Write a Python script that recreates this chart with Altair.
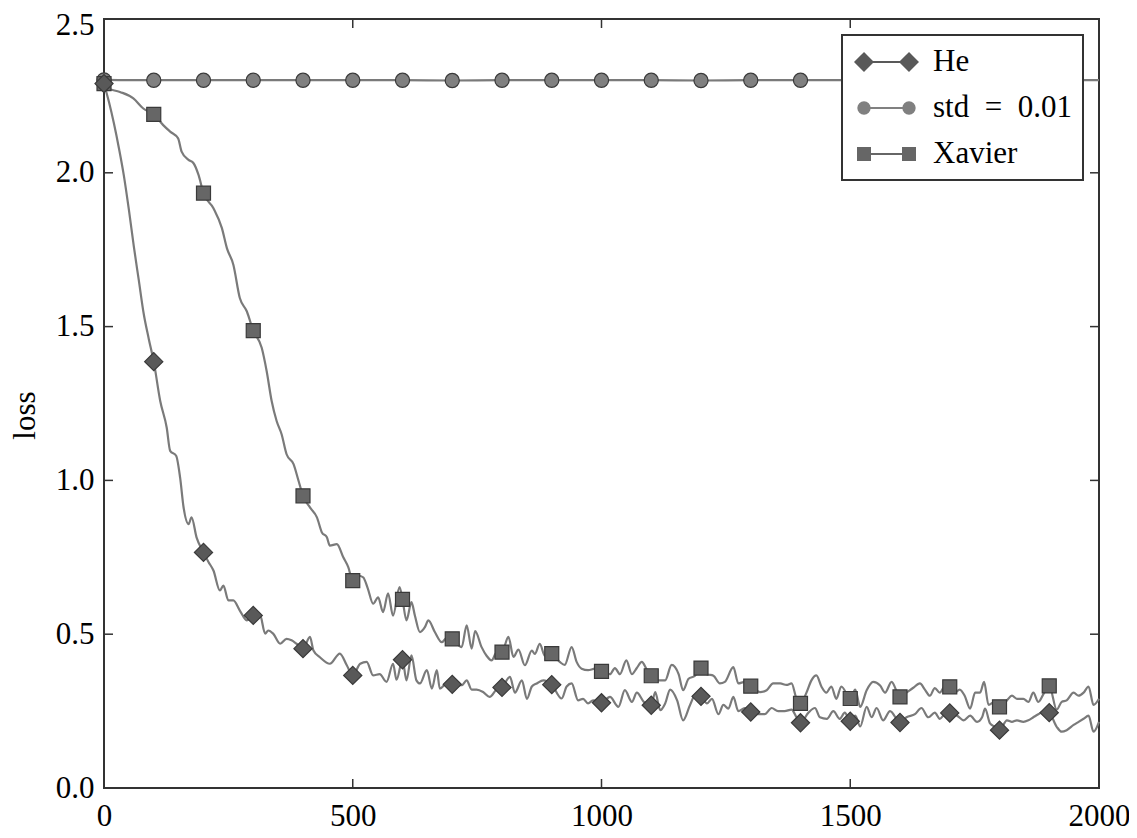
import math
import altair as alt
import pandas as pd

# ---------------- data ----------------
series_names = ["He", "std = 0.01", "Xavier"]

he_steps = [0, 10, 20, 30, 40, 50, 60, 70, 80, 90, 100, 113, 126, 133, 145, 153, 160, 170, 176, 186,
            200, 210, 220, 233, 240, 250, 260, 273, 287, 300, 313, 324, 330, 340, 354, 367, 377, 387,
            400, 414, 421, 434, 454, 474, 488, 500, 515, 528, 541, 554, 568, 581, 588, 600, 608, 618,
            628, 635, 649, 659, 669, 675, 689, 700, 719, 729, 739, 749, 762, 775, 789, 800, 816, 826,
            840, 850, 860, 870, 883, 900, 920, 930, 940, 953, 963, 973, 983, 1000, 1017, 1034, 1047,
            1061, 1071, 1085, 1100, 1108, 1118, 1128, 1138, 1152, 1164, 1178, 1188, 1200, 1212, 1222,
            1235, 1245, 1255, 1265, 1275, 1288, 1300, 1315, 1328, 1342, 1355, 1368, 1382, 1392, 1400,
            1416, 1429, 1439, 1453, 1466, 1479, 1489, 1500, 1510, 1520, 1533, 1543, 1553, 1566, 1580,
            1600, 1613, 1630, 1643, 1657, 1670, 1680, 1690, 1700, 1715, 1728, 1741, 1755, 1765, 1771,
            1781, 1790, 1800, 1815, 1825, 1835, 1848, 1858, 1868, 1878, 1890, 1900, 1915, 1925, 1935,
            1949, 1959, 1969, 1979, 1989, 2000]
he_loss = [2.29, 2.23, 2.16, 2.08, 1.99, 1.88, 1.76, 1.65, 1.54, 1.46, 1.386, 1.258, 1.172, 1.096, 1.080,
           1.009, 0.912, 0.858, 0.880, 0.815, 0.766, 0.735, 0.707, 0.642, 0.658, 0.610, 0.610, 0.577,
           0.545, 0.561, 0.566, 0.502, 0.512, 0.502, 0.469, 0.485, 0.480, 0.469, 0.453, 0.491, 0.447,
           0.425, 0.404, 0.437, 0.399, 0.366, 0.404, 0.410, 0.366, 0.370, 0.345, 0.404, 0.352, 0.417,
           0.350, 0.431, 0.350, 0.340, 0.383, 0.323, 0.383, 0.323, 0.340, 0.337, 0.334, 0.350, 0.320,
           0.320, 0.312, 0.296, 0.320, 0.327, 0.361, 0.310, 0.350, 0.290, 0.330, 0.340, 0.350, 0.336,
           0.291, 0.330, 0.340, 0.285, 0.290, 0.275, 0.285, 0.277, 0.296, 0.264, 0.318, 0.280, 0.310,
           0.280, 0.269, 0.312, 0.253, 0.275, 0.320, 0.285, 0.220, 0.270, 0.300, 0.298, 0.275, 0.290,
           0.240, 0.270, 0.258, 0.296, 0.250, 0.260, 0.247, 0.240, 0.240, 0.260, 0.250, 0.250, 0.255,
           0.230, 0.212, 0.245, 0.260, 0.230, 0.225, 0.250, 0.225, 0.245, 0.217, 0.235, 0.200, 0.264,
           0.230, 0.260, 0.220, 0.250, 0.213, 0.230, 0.240, 0.260, 0.230, 0.245, 0.225, 0.240, 0.244,
           0.235, 0.220, 0.235, 0.215, 0.230, 0.258, 0.210, 0.200, 0.188, 0.220, 0.215, 0.220, 0.215,
           0.220, 0.230, 0.240, 0.250, 0.245, 0.199, 0.183, 0.188, 0.205, 0.215, 0.225, 0.235, 0.183,
           0.215]

xavier_steps = [0, 5, 32, 59, 79, 100, 119, 133, 149, 156, 170, 180, 190, 200, 220, 237, 247, 260, 273,
                287, 300, 317, 327, 337, 347, 357, 367, 381, 391, 400, 414, 428, 438, 448, 454, 468, 481,
                491, 500, 512, 521, 530, 541, 551, 561, 571, 581, 594, 600, 608, 618, 625, 635, 645, 652,
                665, 679, 690, 700, 719, 729, 739, 746, 759, 769, 779, 789, 800, 813, 823, 833, 846, 860,
                866, 876, 886, 900, 916, 926, 940, 950, 960, 973, 987, 1000, 1017, 1027, 1037, 1050,
                1061, 1071, 1081, 1091, 1100, 1115, 1128, 1141, 1155, 1164, 1175, 1188, 1200, 1212,
                1225, 1238, 1248, 1265, 1275, 1288, 1300, 1319, 1332, 1345, 1359, 1372, 1382, 1392,
                1400, 1412, 1422, 1432, 1442, 1452, 1462, 1472, 1482, 1500, 1510, 1520, 1533, 1546,
                1560, 1570, 1583, 1600, 1613, 1626, 1640, 1650, 1660, 1670, 1680, 1690, 1700, 1710,
                1720, 1730, 1741, 1751, 1761, 1769, 1778, 1790, 1800, 1815, 1825, 1835, 1848, 1858,
                1868, 1878, 1890, 1900, 1915, 1925, 1935, 1949, 1959, 1969, 1979, 1989, 2000]
xavier_loss = [2.29, 2.276, 2.263, 2.242, 2.209, 2.190, 2.155, 2.134, 2.112, 2.069, 2.042, 2.031, 1.993,
               1.934, 1.885, 1.820, 1.755, 1.701, 1.593, 1.550, 1.487, 1.431, 1.355, 1.258, 1.193, 1.150,
               1.085, 1.053, 0.999, 0.950, 0.912, 0.880, 0.831, 0.815, 0.788, 0.793, 0.750, 0.718, 0.674,
               0.690, 0.685, 0.650, 0.599, 0.620, 0.572, 0.633, 0.560, 0.653, 0.613, 0.545, 0.604, 0.560,
               0.507, 0.523, 0.545, 0.507, 0.474, 0.490, 0.485, 0.458, 0.529, 0.453, 0.510, 0.458, 0.430,
               0.415, 0.440, 0.442, 0.491, 0.426, 0.450, 0.399, 0.447, 0.436, 0.469, 0.430, 0.437, 0.410,
               0.400, 0.458, 0.410, 0.388, 0.383, 0.388, 0.379, 0.370, 0.390, 0.370, 0.415, 0.370, 0.390,
               0.410, 0.385, 0.365, 0.350, 0.350, 0.400, 0.370, 0.318, 0.355, 0.365, 0.390, 0.370, 0.365,
               0.340, 0.345, 0.393, 0.340, 0.345, 0.331, 0.312, 0.318, 0.340, 0.340, 0.335, 0.340, 0.290,
               0.275, 0.310, 0.350, 0.366, 0.330, 0.310, 0.330, 0.290, 0.330, 0.291, 0.320, 0.264, 0.318,
               0.345, 0.333, 0.310, 0.345, 0.296, 0.310, 0.325, 0.340, 0.320, 0.300, 0.325, 0.310, 0.330,
               0.329, 0.310, 0.320, 0.300, 0.258, 0.310, 0.310, 0.345, 0.270, 0.280, 0.264, 0.285, 0.300,
               0.290, 0.290, 0.280, 0.310, 0.280, 0.310, 0.332, 0.255, 0.280, 0.285, 0.310, 0.300, 0.310,
               0.330, 0.270, 0.290]

std_steps = [0, 100, 200, 300, 400, 500, 600, 700, 800, 900, 1000, 1100, 1200, 1300, 1400, 1500,
             1600, 1700, 1800, 1900, 2000]
std_loss = [2.302, 2.301, 2.301, 2.301, 2.301, 2.301, 2.301, 2.300, 2.301, 2.301, 2.301, 2.301, 2.300,
            2.301, 2.301, 2.301, 2.301, 2.301, 2.300, 2.301, 2.301]

x_ticks = [500, 1000, 1500]
y_ticks = [0.5, 1.0, 1.5, 2.0]
x_labels = [0, 500, 1000, 1500, 2000]
y_labels = [0.0, 0.5, 1.0, 1.5, 2.0, 2.5]

df = pd.concat([
    pd.DataFrame({"step": he_steps, "loss": he_loss, "series": "He"}),
    pd.DataFrame({"step": std_steps, "loss": std_loss, "series": "std = 0.01"}),
    pd.DataFrame({"step": xavier_steps, "loss": xavier_loss, "series": "Xavier"}),
], ignore_index=True)

# ---------------- layout / style ----------------
W, H = 995, 769
FONT = "Liberation Serif"
FS = 31
LINE_GRAY = "#7a7a7a"
EDGE = "#3a3a3a"
FILLS = ["#595959", "#808080", "#666666"]

xs = alt.Scale(domain=[0, 2000], nice=False, zero=False)
ys = alt.Scale(domain=[0, 2.5], nice=False, zero=False)

x_axis = alt.Axis(values=x_labels, format="d", title=None, domain=False, ticks=False, grid=False,
                  labelFont=FONT, labelFontSize=FS, labelColor="black", labelPadding=13,
                  labelFlush=False, labelOverlap=False)
y_axis = alt.Axis(values=y_labels, format=".1f", title="loss", domain=False, ticks=False, grid=False,
                  labelFont=FONT, labelFontSize=FS, labelColor="black", labelPadding=10,
                  labelFlush=False, labelOverlap=False,
                  labelOffset={"condition": {"test": "datum.value >= 2.5", "value": 6}, "value": 0},
                  titleFont=FONT, titleFontSize=FS, titleFontWeight="normal", titleColor="black",
                  titleAngle=270, titleAlign="center", titleBaseline="middle",
                  titleX=-79, titleY=396)

# ---- legend symbols: marker - line - marker (custom paths; unit = sqrt(size)/2 px) ----
LEG_SIZE = 900
U = math.sqrt(LEG_SIZE) / 2.0  # px per path unit


def f(v):
    return "%.3f" % (v / U)


def diamond(cx, h):
    return "M%s,0L%s,%sL%s,0L%s,%sZ" % (f(cx - h), f(cx), f(-h), f(cx + h), f(cx), f(h))


def square(cx, h):
    return "M%s,%sL%s,%sL%s,%sL%s,%sZ" % (f(cx - h), f(-h), f(cx + h), f(-h),
                                         f(cx + h), f(h), f(cx - h), f(h))


def circle(cx, r, n=16):
    pts = []
    for k in range(n):
        a = 2 * math.pi * k / n
        pts.append("%s,%s" % (f(cx + r * math.cos(a)), f(r * math.sin(a))))
    return "M" + "L".join(pts) + "Z"


def seg(x0, x1, t=0.9):
    # thin filled bar standing in for the connecting line
    return "M%s,%sL%s,%sL%s,%sL%s,%sZ" % (f(x0), f(-t), f(x1), f(-t), f(x1), f(t), f(x0), f(t))


LC, RC = -5.0, 40.0   # marker centres, px from symbol centre
HE_PATH = diamond(LC, 10) + seg(LC + 9, RC - 9) + diamond(RC, 10)
STD_PATH = circle(LC, 6.7) + seg(LC + 6, RC - 6) + circle(RC, 6.7)
XA_PATH = square(LC, 7) + seg(LC + 6, RC - 6) + square(RC, 7)

legend = alt.Legend(
    title=None, orient="top-right", offset=16, padding=11,
    symbolSize=LEG_SIZE, symbolStrokeWidth=1.2, symbolStrokeColor=EDGE, symbolOpacity=1,
    symbolOffset=0, labelOffset=48, rowPadding=15,
    labelFont=FONT, labelFontSize=FS, labelColor="black",
    labelExpr="replace(datum.label, ' = ', '\u2002=\u2002') + '\u2003\u2009'",
    strokeColor="#333333", fillColor="white",
)

base = alt.Chart(df)

# lines: constant colour, split by series with detail
lines = base.mark_line(strokeWidth=2.2, interpolate="monotone", color=LINE_GRAY).encode(
    x=alt.X("step:Q", scale=xs, axis=x_axis),
    y=alt.Y("loss:Q", scale=ys, axis=y_axis),
    detail="series:N",
    order="step:Q",
)

# a layer with no visible rows that only carries the legend (shape + fill keyed on series)
legend_layer = base.transform_filter(alt.datum.step < 0).mark_point(
    filled=True, size=LEG_SIZE, stroke=EDGE, strokeWidth=1.2, opacity=1
).encode(
    x=alt.X("step:Q", scale=xs),
    y=alt.Y("loss:Q", scale=ys),
    shape=alt.Shape("series:N", scale=alt.Scale(domain=series_names,
                                                range=[HE_PATH, STD_PATH, XA_PATH]),
                    legend=legend),
    fill=alt.Fill("series:N", scale=alt.Scale(domain=series_names, range=FILLS), legend=legend),
)


def markers(name, shape, fill, size):
    return base.transform_filter(
        (alt.datum.series == name) & (alt.datum.step % 100 == 0) & (alt.datum.step < 2000)
    ).mark_point(shape=shape, filled=True, fill=fill, stroke=EDGE, strokeWidth=1.2,
                 size=size, opacity=1).encode(
        x=alt.X("step:Q", scale=xs),
        y=alt.Y("loss:Q", scale=ys),
    )


pts_std = markers("std = 0.01", "circle", FILLS[1], 200)
pts_xa = markers("Xavier", "square", FILLS[2], 196)
pts_he = markers("He", "diamond", FILLS[0], 330)

ytick_df = pd.DataFrame({"v": y_ticks})
xtick_df = pd.DataFrame({"v": x_ticks})
tick_col = "#333333"
lt = alt.Chart(ytick_df).mark_rule(color=tick_col, strokeWidth=1.5).encode(
    y=alt.Y("v:Q", scale=ys), x=alt.value(0), x2=alt.value(9))
rt = alt.Chart(ytick_df).mark_rule(color=tick_col, strokeWidth=1.5).encode(
    y=alt.Y("v:Q", scale=ys), x=alt.value(W - 9), x2=alt.value(W))
tt = alt.Chart(xtick_df).mark_rule(color=tick_col, strokeWidth=1.5).encode(
    x=alt.X("v:Q", scale=xs), y=alt.value(0), y2=alt.value(9))
bt = alt.Chart(xtick_df).mark_rule(color=tick_col, strokeWidth=1.5).encode(
    x=alt.X("v:Q", scale=xs), y=alt.value(H - 9), y2=alt.value(H))

chart = alt.layer(lt, rt, tt, bt, lines, pts_std, pts_xa, pts_he, legend_layer).properties(
    width=W, height=H,
    padding={"left": 96, "top": 11, "right": 30, "bottom": 46},
    autosize="none",
    background="white",
).configure_view(stroke="#333333", strokeWidth=2).configure_legend(
    labelBaseline="middle", strokeWidth=2
)

chart.save("out.html", embed_options={"renderer": "svg", "actions": False})
